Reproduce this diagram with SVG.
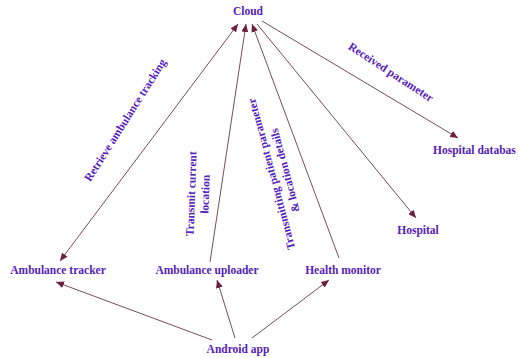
<svg xmlns="http://www.w3.org/2000/svg" width="519" height="358" viewBox="0 0 519 358">
<style>
.t{font-family:"Liberation Serif","Times New Roman",serif;font-weight:bold;font-size:11.5px;fill:#5522bb}
.m{text-anchor:middle}
.c line{stroke:#7b4a5e;stroke-width:1;fill:none}
</style>
<defs>
<marker id="ah" markerUnits="userSpaceOnUse" markerWidth="9" markerHeight="7" refX="8" refY="3.5" orient="auto-start-reverse">
<path d="M0,0 L8,3.5 L0,7 z" fill="#6e1f40"/>
</marker>
</defs>
<rect width="519" height="358" fill="#ffffff"/>
<g id="connectors" class="c">
<line x1="60" y1="261" x2="238" y2="24" marker-start="url(#ah)" marker-end="url(#ah)"/>
<line x1="210" y1="262" x2="246" y2="24" marker-end="url(#ah)"/>
<line x1="339" y1="258" x2="252" y2="24" marker-end="url(#ah)"/>
<line x1="257" y1="24" x2="416" y2="218" marker-end="url(#ah)"/>
<line x1="262" y1="21" x2="458" y2="138" marker-end="url(#ah)"/>
<line x1="212" y1="340" x2="56" y2="282" marker-end="url(#ah)"/>
<line x1="235" y1="338" x2="217" y2="280" marker-end="url(#ah)"/>
<line x1="252" y1="338" x2="329" y2="280" marker-end="url(#ah)"/>
</g>
<g id="labels">
<text class="t m" transform="translate(125,120) rotate(-57.6)" y="4">Retrieve ambulance tracking</text>
<g transform="translate(199,194) rotate(-88)">
<text class="t m" y="-4">Transmit current</text>
<text class="t m" y="10">location</text>
</g>
<g transform="translate(279,172) rotate(-105)">
<text class="t m" y="-4">Transmitting patient parameter</text>
<text class="t m" y="10">&amp; location details</text>
</g>
<text class="t m" transform="translate(391,72) rotate(33)" y="4">Received parameter</text>
</g>
<g id="cloud"><text class="t m" x="248" y="15">Cloud</text></g>
<g id="ambulance-tracker"><text class="t m" x="58" y="274">Ambulance tracker</text></g>
<g id="ambulance-uploader"><text class="t m" x="207" y="274">Ambulance uploader</text></g>
<g id="health-monitor"><text class="t m" x="343" y="274">Health monitor</text></g>
<g id="android-app"><text class="t m" x="238" y="353">Android app</text></g>
<g id="hospital"><text class="t m" x="418" y="234">Hospital</text></g>
<g id="hospital-database"><text class="t" x="433" y="154">Hospital databas</text></g>
</svg>
